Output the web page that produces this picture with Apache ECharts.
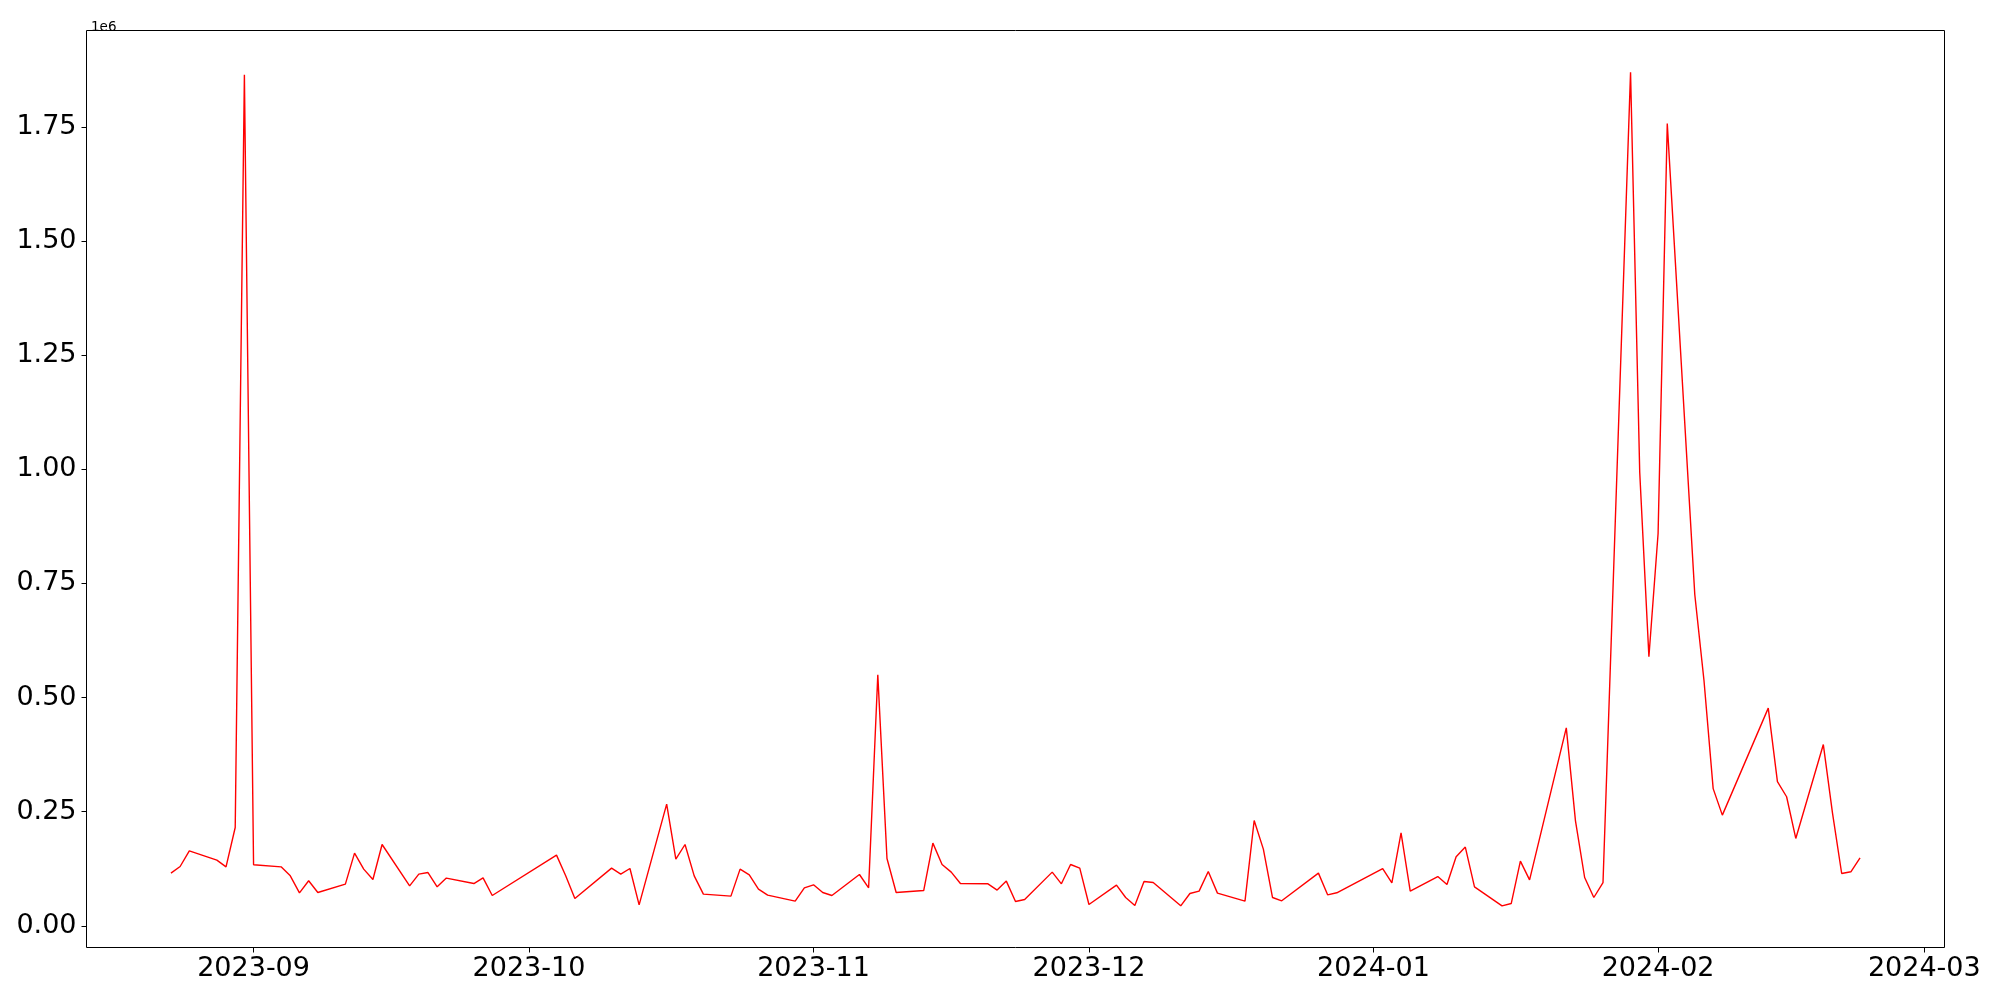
<!DOCTYPE html>
<html>
<head>
<meta charset="utf-8">
<script src="https://cdn.jsdelivr.net/npm/echarts@6/dist/echarts.min.js"></script>
<style>html,body{margin:0;padding:0;background:#fff}#c{width:2000px;height:1000px}</style>
</head>
<body>
<div id="c"></div>
<script>
const dates = ['2023-08-23','2023-08-24','2023-08-25','2023-08-28','2023-08-29','2023-08-30','2023-08-31','2023-09-01',
'2023-09-04','2023-09-05','2023-09-06','2023-09-07','2023-09-08','2023-09-11','2023-09-12','2023-09-13','2023-09-14','2023-09-15',
'2023-09-18','2023-09-19','2023-09-20','2023-09-21','2023-09-22','2023-09-25','2023-09-26','2023-09-27',
'2023-10-04','2023-10-05','2023-10-06','2023-10-10','2023-10-11','2023-10-12','2023-10-13',
'2023-10-16','2023-10-17','2023-10-18','2023-10-19','2023-10-20','2023-10-23','2023-10-24','2023-10-25','2023-10-26','2023-10-27',
'2023-10-30','2023-10-31','2023-11-01','2023-11-02','2023-11-03','2023-11-06','2023-11-07','2023-11-08','2023-11-09','2023-11-10',
'2023-11-13','2023-11-14','2023-11-15','2023-11-16','2023-11-17','2023-11-20','2023-11-21','2023-11-22','2023-11-23','2023-11-24',
'2023-11-27','2023-11-28','2023-11-29','2023-11-30','2023-12-01','2023-12-04','2023-12-05','2023-12-06','2023-12-07','2023-12-08',
'2023-12-11','2023-12-12','2023-12-13','2023-12-14','2023-12-15','2023-12-18','2023-12-19','2023-12-20','2023-12-21','2023-12-22',
'2023-12-26','2023-12-27','2023-12-28','2024-01-02','2024-01-03','2024-01-04','2024-01-05',
'2024-01-08','2024-01-09','2024-01-10','2024-01-11','2024-01-12','2024-01-15','2024-01-16','2024-01-17','2024-01-18',
'2024-01-22','2024-01-23','2024-01-24','2024-01-25','2024-01-26','2024-01-29','2024-01-30','2024-01-31','2024-02-01','2024-02-02',
'2024-02-05','2024-02-06','2024-02-07','2024-02-08','2024-02-13','2024-02-14','2024-02-15','2024-02-16',
'2024-02-19','2024-02-20','2024-02-21','2024-02-22','2024-02-23'];

const values = [115400,129900,164300,143900,129200,215300,1864000,133600,
129200,109500,72300,98600,72900,91300,159200,124200,101400,178100,
87600,113200,116700,85400,104500,92600,105100,66400,
154800,109500,59800,126400,113200,125500,46000,
266500,146100,178100,109500,69400,65000,124200,111700,80400,67200,
54100,83200,89800,72900,66400,112400,83200,549700,147400,72900,
77300,181100,134300,117600,92600,92000,78200,97900,53200,57600,
117600,92000,134300,126400,46700,89100,62000,44500,97000,94800,
43800,70700,76000,118900,71600,54100,230600,168000,62000,54800,
115400,67900,72300,125500,94200,203700,76000,
108000,90500,151100,172400,85400,43800,48800,141700,100700,
433600,230000,105800,62000,94800,1869700,993400,589400,859200,1757000,
725100,537400,300500,242400,476800,315800,282700,191400,
397000,247000,114600,118300,148700];

const xTickDates = ['2023-09-01','2023-10-01','2023-11-01','2023-12-01','2024-01-01','2024-02-01','2024-03-01'];
const xTickLabels = ['2023-09','2023-10','2023-11','2023-12','2024-01','2024-02','2024-03'];
const yTicks = [0,250000,500000,750000,1000000,1250000,1500000,1750000];

const ts = d => { const p = d.split('-').map(Number); return Date.UTC(p[0], p[1]-1, p[2]); };
const xs = dates.map(ts);
const xSpan = xs[xs.length-1] - xs[0];
const xMin = xs[0] - 0.05 * xSpan, xMax = xs[xs.length-1] + 0.05 * xSpan;
const vMin = Math.min(...values), vMax = Math.max(...values);
const ySpan = vMax - vMin;
const yMin = vMin - 0.05 * ySpan, yMax = vMax + 0.05 * ySpan;
const xTickVals = xTickDates.map(ts);
const labelFor = v => { const i = xTickVals.indexOf(v); return i >= 0 ? xTickLabels[i] : ''; };

const font = 'DejaVu Sans';
const chart = echarts.init(document.getElementById('c'), null, {renderer: 'canvas'});
chart.setOption({
  animation: false,
  backgroundColor: '#fff',
  title: {
    text: '1e6', left: 86, top: 15,
    textStyle: {fontFamily: font, fontSize: 13.5, fontWeight: 'normal', color: '#000'}
  },
  grid: {left: 86.5, right: 55.5, top: 30.5, bottom: 52.5, show: true, borderColor: '#000', borderWidth: 1, backgroundColor: 'transparent'},
  xAxis: {
    type: 'value', min: xMin, max: xMax, scale: true,
    axisLine: {show: false, onZero: false},
    splitLine: {show: false},
    axisTick: {show: true, length: 5, lineStyle: {color: '#000', width: 1}, customValues: xTickVals},
    axisLabel: {
      customValues: xTickVals,
      fontFamily: font, fontSize: 27, color: '#000', margin: 8,
      formatter: v => labelFor(v)
    }
  },
  yAxis: {
    type: 'value', min: yMin, max: yMax,
    axisLine: {show: false, onZero: false},
    splitLine: {show: false},
    axisTick: {show: true, length: 5, lineStyle: {color: '#000', width: 1}, customValues: yTicks},
    axisLabel: {
      customValues: yTicks,
      fontFamily: font, fontSize: 27, color: '#000', margin: 10,
      formatter: v => (v / 1e6).toFixed(2)
    }
  },
  series: [{
    type: 'line',
    data: xs.map((x, i) => [x, values[i]]),
    showSymbol: false,
    lineStyle: {color: '#ff0000', width: 1.4},
    itemStyle: {color: '#ff0000'}
  }]
});
</script>
</body>
</html>
